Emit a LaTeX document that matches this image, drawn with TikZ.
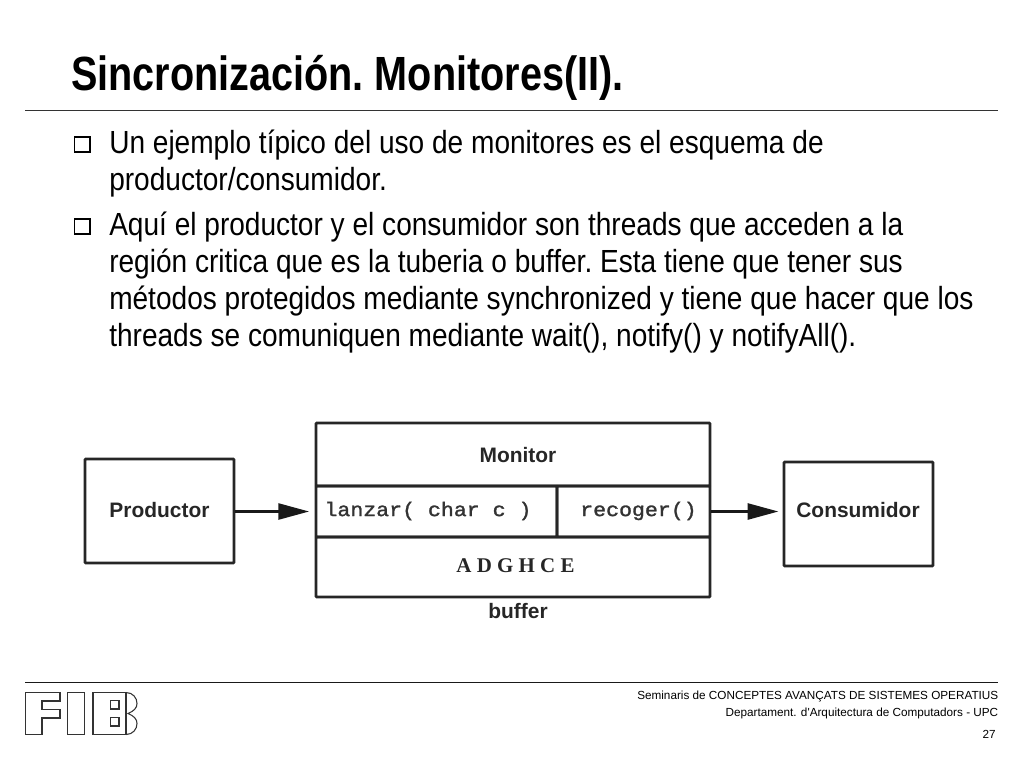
\documentclass[tikz,border=0pt]{standalone}
\usepackage{fontspec}
\setmainfont{Liberation Sans}[FakeStretch=0.877]
\newfontfamily\titleface{Liberation Sans}[FakeStretch=0.825]
\newfontfamily\wideface{Liberation Sans}
\newfontfamily\typeface{Liberation Mono}[FakeBold=1.5,FakeStretch=1.1]
\newfontfamily\romanface{Liberation Serif}
\usetikzlibrary{arrows.meta}

\tikzset{
    textline/.style={anchor=base west,inner sep=0pt,font=\fontsize{24pt}{24pt}\selectfont},
    foot/.style={anchor=base east,inner sep=0pt,font=\wideface\fontsize{8.8pt}{8.8pt}\selectfont},
    tickbox/.style={draw=black,line width=1.35pt,minimum size=11.4pt,inner sep=0pt},
    cellbox/.style={draw=black!85,line width=2pt,inner sep=0pt,rounded corners=0.5pt},
    captext/.style={inner sep=0pt,text=black!85,font=\wideface\bfseries\fontsize{15.7pt}{15.7pt}\selectfont},
    codetext/.style={inner sep=0pt,text=black!80,font=\typeface\fontsize{14.7pt}{14.7pt}\selectfont},
    linkarrow/.style={draw=black!90,line width=1.8pt,-{Triangle[length=23pt,width=12pt]}},
    logopath/.style={draw=black!80,line width=0.8pt}
}

\begin{document}
\frenchspacing
\begin{tikzpicture}[x=0.75pt,y=-0.75pt]
\useasboundingbox (0,0) rectangle (1024,768);

% title
\node [anchor=base west,inner sep=0pt,font=\titleface\bfseries\fontsize{36pt}{36pt}\selectfont] (title) at (71,90) {Sincronización. Monitores(II).};
\coordinate (ruleL) at (25,110.5);
\coordinate (ruleR) at (998,110.5);
\draw [line width=1.1pt,black!80] (ruleL) -- (ruleR);

% bullets
\node [tickbox] (tick0) at (82,144.5) {};
\node [tickbox] (tick1) at (82,226.5) {};

\node [textline] (line0) at (109,153) {Un ejemplo típico del uso de monitores es el esquema de};
\node [textline] (line1) at (109,190) {productor/consumidor.};
\node [textline] (line2) at (109,235) {Aquí el productor y el consumidor son threads que acceden a la};
\node [textline] (line3) at (109,272) {región critica que es la tuberia o buffer. Esta tiene que tener sus};
\node [textline] (line4) at (109,309) {métodos protegidos mediante synchronized y tiene que hacer que los};
\node [textline] (line5) at (109,346) {threads se comuniquen mediante wait(), notify() y notifyAll().};

% diagram
\node [cellbox,minimum width=111.75pt,minimum height=78pt] (prod) at (159.5,511) {};
\node [captext] (prodtext) at (159.5,510) {Productor};
\node [cellbox,minimum width=111.75pt,minimum height=78pt] (cons) at (858.5,514) {};
\node [captext] (constext) at (858,510) {Consumidor};

\node [cellbox,minimum width=295.5pt,minimum height=47.25pt] (monitor) at (513,454.5) {};
\node [captext] (monitortext) at (518,455) {Monitor};
\node [cellbox,minimum width=180.75pt,minimum height=38.25pt] (lanzar) at (436.5,511.5) {};
\node [cellbox,minimum width=114.75pt,minimum height=38.25pt] (recoger) at (633.5,511.5) {};
\node [codetext] (lanzartext) at (428,511) {lanzar( char c )};
\node [codetext] (recogertext) at (638.5,511) {recoger()};
\node [cellbox,minimum width=295.5pt,minimum height=45pt] (store) at (513,567) {};
\node [inner sep=0pt,text=black!85,font=\romanface\bfseries\fontsize{15.7pt}{15.7pt}\selectfont] (storetext) at (515.5,566) {A D G H C E};
\node [captext] (buffertext) at (518,611) {buffer};

\draw [linkarrow,shorten >=4.2pt] (prod.east |- lanzar.west) -- (lanzar.west);
\draw [linkarrow,shorten >=3.2pt] (recoger.east) -- (recoger.east -| cons.west);

% footer
\coordinate (footL) at (25,682.5);
\coordinate (footR) at (998,682.5);
\draw [line width=1pt,black!90] (footL) -- (footR);
\node [foot] (seminar) at (998.5,699) {Seminaris de CONCEPTES AVANÇATS DE SISTEMES OPERATIUS};
\node [foot] (dept) at (998.5,716) {Departament.\ \kern0.8pt d'Arquitectura de Computadors - UPC};
\node [foot] (page) at (996,738) {27};

% logo
\draw [logopath] (25.5,692.5) -- (60,692.5) -- (60,701) -- (42,701) -- (42,709.5) -- (60,709.5) -- (60,718) -- (42,718) -- (42,734.5) -- (25.5,734.5) -- cycle;
\draw [logopath] (67.5,692.5) rectangle (84.5,734.5);
\draw [logopath] (93,692.5) rectangle (126,734.5);
\draw [logopath] (126,692.5) .. controls (133,692.5) and (137,698) .. (137,703.5) .. controls (137,708) and (134,711) .. (128,713.5) .. controls (134,716) and (137,719) .. (137,723.5) .. controls (137,729) and (133,734.5) .. (126,734.5);
\draw [logopath] (110.5,700.5) rectangle (119,709);
\draw [logopath] (110.5,717.5) rectangle (119,726);

\end{tikzpicture}
\end{document}
